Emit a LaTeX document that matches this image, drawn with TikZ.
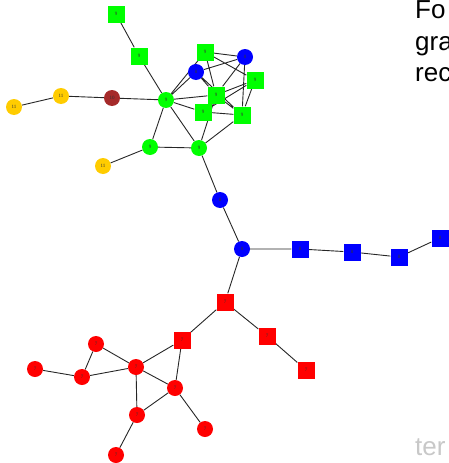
\documentclass[tikz,border=0pt]{standalone}
\usepackage{fontspec}
\setmainfont{Liberation Sans}
\newfontfamily\lblfont{Liberation Serif}
\usetikzlibrary{backgrounds}
\definecolor{ggreen}{RGB}{0,255,0}
\definecolor{bblue}{RGB}{0,0,255}
\definecolor{rred}{RGB}{255,0,0}
\definecolor{yyellow}{RGB}{255,204,0}
\definecolor{bbrown}{RGB}{165,42,42}
\definecolor{ggray}{RGB}{200,200,200}
\tikzset{
  vx/.style={inner sep=0pt, font=\lblfont\fontsize{5}{5}\selectfont, text=black!80},
  circ/.style={vx, circle, minimum size=16pt},
  sq/.style={vx, rectangle, minimum size=17pt},
  gc/.style={circ, fill=ggreen}, gs/.style={sq, fill=ggreen},
  bc/.style={circ, fill=bblue}, bs/.style={sq, fill=bblue},
  rc/.style={circ, fill=rred}, rs/.style={sq, fill=rred},
  yc/.style={circ, fill=yyellow}, brc/.style={circ, fill=bbrown},
  edge/.style={draw=black!85, line width=0.9pt},
  side/.style={font=\fontsize{26}{26}\selectfont, anchor=base west, inner sep=0pt}
}
\begin{document}
\begin{tikzpicture}[x=1pt, y=-1pt]
\useasboundingbox (0,0) rectangle (449,463);
% green
\node[gs] (g1) at (116,14) {9};
\node[gs] (g2) at (139,56) {9};
\node[gs] (g3) at (205,52) {9};
\node[gs] (g4) at (255,80) {9};
\node[gs] (g5) at (216,95) {9};
\node[gs] (g6) at (203,112) {9};
\node[gs] (g7) at (242,115) {9};
\node[gc] (c1) at (166,100) {9};
\node[gc] (c2) at (150,147) {9};
\node[gc] (c3) at (199,148) {9};
% blue
\node[bc] (b1) at (196,72) {8};
\node[bc] (b2) at (245,57) {8};
\node[bc] (b3) at (220,200) {8};
\node[bc] (b4) at (242,249) {8};
\node[bs] (s1) at (300,249) {8};
\node[bs] (s2) at (352,252) {8};
\node[bs] (s3) at (399,257) {8};
\node[bs] (s4) at (440,238) {8};
% brown / yellow
\node[brc] (br) at (112,98) {10};
\node[yc] (y1) at (61,96) {11};
\node[yc] (y2) at (14,107) {11};
\node[yc] (y3) at (103,166) {11};
% red
\node[rs] (q1) at (225,302) {7};
\node[rs] (q2) at (182,340) {7};
\node[rs] (q3) at (267,336) {7};
\node[rs] (q4) at (306,370) {7};
\node[rc] (r1) at (96,344) {7};
\node[rc] (r2) at (35,369) {7};
\node[rc] (r3) at (82,377) {7};
\node[rc] (r4) at (136,367) {7};
\node[rc] (r5) at (175,388) {7};
\node[rc] (r6) at (137,415) {7};
\node[rc] (r7) at (205,429) {7};
\node[rc] (r8) at (116,455) {7};
% side text
\node[side] (t1) at (415,19) {Fo};
\node[side] (t2) at (415,50) {gra};
\node[side] (t3) at (415,81) {rec};
\node[side, text=ggray] (t4) at (415,455) {ter};
\begin{pgfonlayer}{background}
\path[edge]
  (g1) -- (g2) (g2) -- (c1)
  (y2) -- (y1) (y1) -- (br) (br) -- (c1)
  (y3) -- (c2)
  (c1) -- (c2) (c2) -- (c3) (c1) -- (c3)
  (c1) -- (g3) (c1) -- (b1) (c1) -- (g5) (c1) -- (g6)
  (c3) -- (g5) (c3) -- (g7)
  (g3) -- (b2) (g3) -- (g4) (g3) -- (g5)
  (b1) -- (b2) (b1) -- (g5) (b1) -- (g7)
  (b2) -- (g5) (b2) -- (g7)
  (g4) -- (g7) (g4) -- (g5) (g4) -- (g6)
  (g5) -- (g7) (g6) -- (g7)
  (c3) -- (b3) (b3) -- (b4)
  (b4) -- (s1) (s1) -- (s2) (s2) -- (s3) (s3) -- (s4)
  (b4) -- (q1) (q1) -- (q2) (q1) -- (q3) (q3) -- (q4)
  (q2) -- (r4) (q2) -- (r5)
  (r1) -- (r4) (r1) -- (r3) (r2) -- (r3) (r3) -- (r4)
  (r4) -- (r5) (r4) -- (r6) (r5) -- (r6) (r5) -- (r7) (r6) -- (r8);
\end{pgfonlayer}
\end{tikzpicture}
\end{document}
